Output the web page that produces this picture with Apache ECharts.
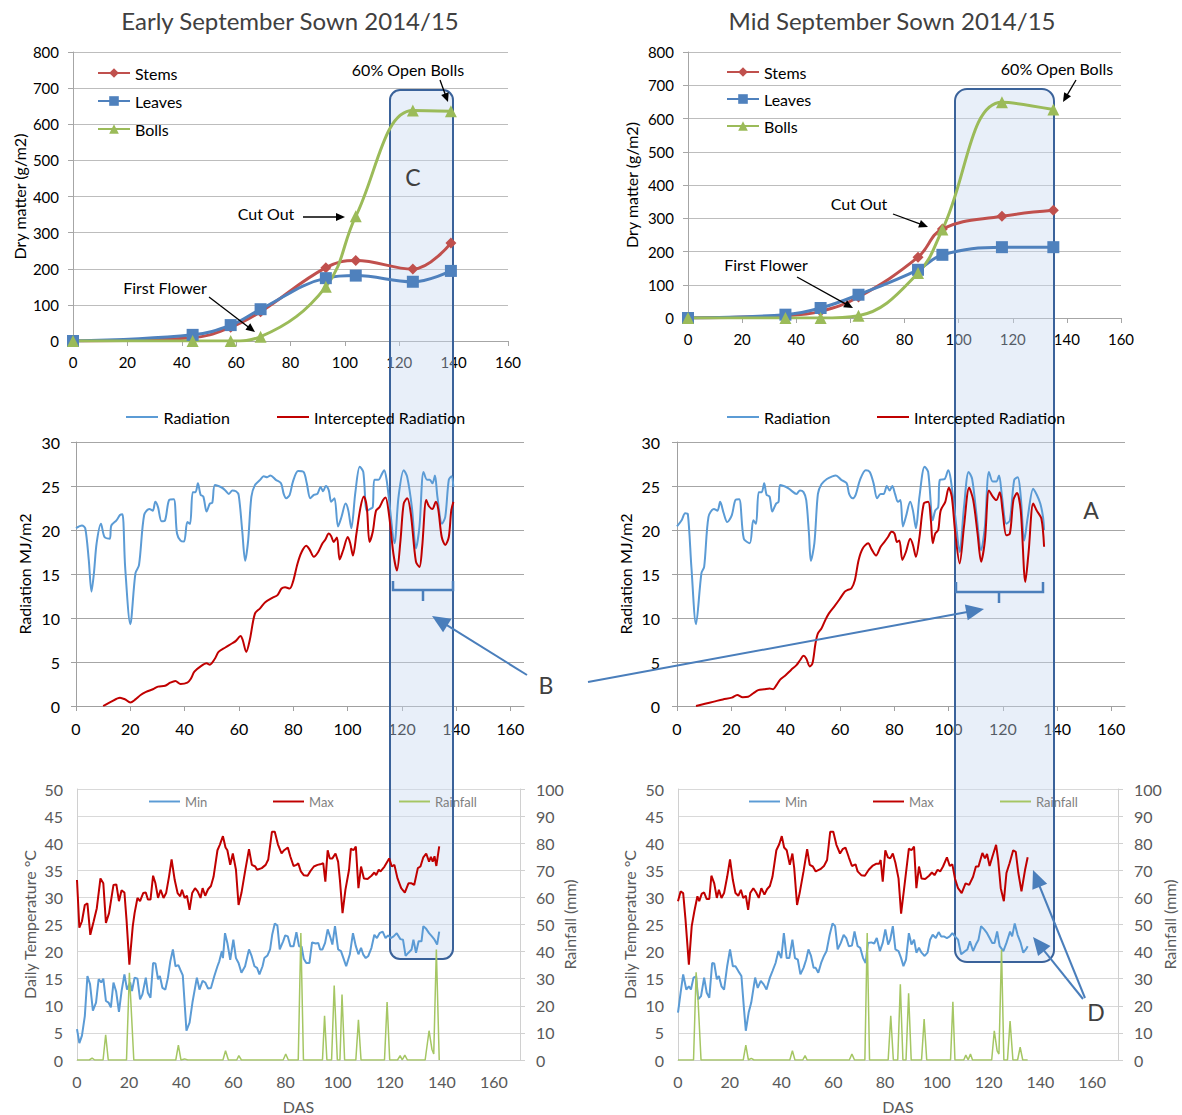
<!DOCTYPE html>
<html><head><meta charset="utf-8">
<script src="https://cdn.jsdelivr.net/npm/echarts@6/dist/echarts.min.js"></script>
<style>html,body{margin:0;padding:0;background:#fff}#c{width:1182px;height:1115px}</style>
</head><body><div id="c"></div>
<script>
// ---------- DATA ----------
const dmDasEarly   = [0,44,58,69,93,104,125,139];
const dmStemsEarly = [0,9,38,81,203,223,199,271];
const dmLeavesEarly= [0,17,44,88,174,181,164,194];
const dmBollsEarly = [0,0,0,12,150,345,638,636];
const dmDasMid     = [0,36,49,63,85,94,116,135];
const dmStemsMid   = [0,7,20,63,183,268,306,324];
const dmLeavesMid  = [0,10,30,70,145,190,213,213];
const dmBollsMid   = [0,0,0,7,135,266,649,627];

const radEarly = [[0,20.2],[2.2,20.5],[3.4,20.2],[4.7,16.6],[5.7,13.0],[6.6,15.1],[7.6,18.5],[9.2,20.7],[10.5,19.2],[12.4,19.0],[13,20.5],[14.9,21.1],[16.2,21.7],[17.1,21.8],[18.1,15.8],[20,9.3],[21.9,15.1],[23.2,16.0],[25.1,21.7],[27,22.4],[28.3,22.2],[29.2,23.2],[30.2,22.6],[31.5,21.0],[32.8,21.1],[34.3,23.4],[36,23.5],[37.2,19.6],[38.5,18.8],[39.8,18.7],[41,20.9],[42,20.7],[43,24.3],[44,24.3],[44.9,25.3],[45.9,24.0],[46.9,23.8],[48.1,22.1],[49.3,23.0],[50.2,23.1],[51.2,25.1],[53.8,24.8],[55,24.5],[56.3,24.1],[57.6,24.5],[58.9,24.4],[59.9,24.0],[61.2,20.0],[62.3,16.5],[63.4,18.8],[64.6,23.8],[65.9,25.1],[67.8,25.7],[69.1,26.1],[70.4,26.0],[71.6,26.2],[73.6,25.7],[75.5,25.3],[76.5,24.1],[77.4,23.6],[78.7,24.0],[79.9,25.5],[81.8,26.7],[83.8,26.6],[85,25.3],[86.3,23.6],[87.6,24.0],[88.9,24.1],[90.1,24.9],[91,24.4],[92,25.0],[93.1,24.5],[94,23.2],[95.2,23.6],[96.5,20.4],[97.8,21.5],[99.3,23.0],[100.3,22.2],[101.4,20.2],[102.9,24.3],[104.5,27.2],[105.8,26.6],[107.1,22.2],[108.4,22.4],[109.3,22.6],[109.9,25.7],[111.4,25.7],[112.4,26.2],[113.5,26.8],[114.4,25.7],[115.3,23.4],[117.3,18.5],[118.8,23.8],[120.7,26.8],[122,26.0],[123.7,22.6],[125.2,17.9],[126.5,20.4],[128,26.6],[129.3,25.7],[130.3,25.7],[131.3,25.3],[132.2,26.2],[133.1,23.8],[134.8,20.7],[136,21.5],[137.3,25.7],[138.3,26.1],[139,24.9]];
const interceptedEarly = [[10,0],[13,0.5],[16.2,0.95],[18.1,0.75],[20,0.4],[21.9,0.75],[23.8,1.25],[25.8,1.6],[28.3,1.9],[30.2,2.2],[32.8,2.3],[34.7,2.65],[36.6,2.85],[38.5,2.5],[41,2.65],[42.3,3.1],[43.6,3.9],[45.9,4.5],[48.1,4.85],[49.3,4.7],[51.2,5.4],[52.5,6.15],[55,6.65],[57.4,7.1],[58.9,7.4],[60.6,7.95],[61.4,7.5],[62.7,6.15],[64,7.5],[65.9,10.5],[67.8,11.1],[69.7,11.8],[72.3,12.3],[74.2,12.6],[75.7,13.35],[77,13.5],[78.7,13.35],[79.9,14.1],[81.6,16.2],[83.1,17.5],[84.8,18.2],[86,17.8],[87.6,16.95],[89.2,17.5],[90.8,18.5],[91.8,18.9],[93.1,19.6],[94,19.3],[94.9,18.65],[96.1,19.15],[97.1,16.65],[98.4,17.7],[100.1,19.2],[101,18.5],[102,17.1],[103.3,19.6],[104.8,22.6],[106,23.8],[107.1,22.6],[108.1,18.65],[109.3,19.8],[110.5,22.2],[111.8,22.6],[113.1,23.4],[114,23.7],[115.3,21.7],[116.9,17.3],[118.2,15.4],[119.5,18.8],[120.7,23.0],[122,23.6],[123.3,21.9],[125.2,16.4],[126.5,15.8],[127.5,18.1],[129,23.4],[130,22.7],[131.3,22.4],[132.5,23.2],[133.4,22.4],[134.7,19.2],[136,18.3],[137.3,19.2],[138.2,22.2],[139,23.2]];
const radMid = [[0,20.4],[1.7,21.1],[3,21.9],[4,21.8],[5.3,15.8],[7,9.3],[9,15.1],[10,15.8],[11.6,21.5],[13.6,22.4],[14.9,22.2],[15.9,23.2],[17.2,21.9],[18.5,20.9],[20.2,21.7],[21.5,23.4],[22.9,23.5],[24.6,19.0],[26.8,18.5],[28.1,21.1],[29.1,20.7],[30.1,24.3],[31.2,24.3],[32.1,25.3],[33,24.0],[34.1,23.8],[35.1,22.1],[36.5,23.0],[37.4,23.2],[38,25.1],[40.7,24.8],[42,24.5],[44,24.1],[45.3,24.5],[46.6,24.3],[47.6,23.4],[48.6,19.6],[49.3,16.5],[50.6,18.5],[51.9,24.1],[53.2,25.2],[55.2,25.8],[57.2,26.1],[58.5,26.2],[60.5,25.7],[62.5,25.3],[63.4,24.1],[64.7,23.6],[65.8,24.0],[67.4,25.7],[69.5,26.8],[71,26.6],[72.4,25.3],[73.7,23.6],[75,24.1],[76.1,24.1],[77.3,25.0],[78.3,24.5],[79.3,25.0],[80.3,24.1],[81.4,23.2],[82.3,23.4],[83.2,20.4],[84.3,21.5],[85.9,23.2],[86.9,22.2],[88,20.2],[89.3,23.8],[91.2,27.2],[92.5,26.6],[94.2,21.1],[95.1,22.2],[96.2,22.6],[96.8,25.7],[98.6,25.8],[99.9,26.8],[100.8,25.8],[102.5,21.5],[104.1,17.5],[105.7,22.6],[107.4,26.6],[108.7,25.8],[110.4,21.5],[112,17.7],[113.4,20.4],[114.9,26.6],[116.3,25.5],[117.6,25.5],[118.6,26.2],[119.7,23.8],[121.3,20.7],[122.6,21.1],[124.2,25.7],[125.5,26.0],[126.6,23.8],[127.9,18.8],[129.2,21.5],[131.2,24.7],[132.5,24.0],[133.8,23.0],[134.8,21.5],[135.2,20.0]];
const interceptedMid = [[7,0],[10.3,0.25],[13.6,0.5],[16.9,0.75],[20.2,0.95],[22.2,1.25],[24.2,1.0],[26.2,1.05],[28.1,1.45],[29.9,1.8],[32.1,1.9],[34.1,2.0],[35.4,1.9],[36.7,2.4],[38,3.0],[40,3.5],[42,4.1],[44,4.65],[45.3,5.2],[46.6,5.7],[47.6,5.4],[48.9,4.5],[49.9,4.85],[51,7.1],[51.9,8.25],[53.2,8.8],[54.6,9.75],[55.9,10.5],[57.9,11.3],[59.8,12.1],[61.8,13.0],[62.9,13.2],[64.2,13.35],[65.5,14.3],[66.9,16.6],[68.4,17.9],[70.4,18.5],[71.7,17.8],[73.3,17.1],[75,18.1],[76.4,18.65],[77.7,19.2],[79,19.8],[80.1,19.6],[81,18.65],[81.9,18.8],[83,16.6],[84.3,17.5],[85.9,19.0],[86.9,18.3],[88,16.95],[89.3,19.2],[90.9,23.0],[92.5,23.2],[93.5,21.1],[94.2,18.5],[95.1,19.6],[96.2,20.0],[97.1,22.2],[98.8,23.2],[100.1,24.8],[101.2,23.8],[102.5,19.6],[104.1,16.2],[105.7,20.4],[107.6,24.8],[109.1,23.4],[110.7,19.6],[112,16.4],[113.4,18.8],[114.9,24.5],[116.3,23.8],[117.6,23.4],[118.9,24.3],[119.9,22.2],[121.3,19.4],[122.6,19.6],[123.9,23.4],[125.2,24.2],[126.6,22.2],[128.3,14.1],[129.5,17.5],[131.2,23.0],[132.5,22.2],[134.2,21.3],[135.2,18.1]];

const maxEarly = [[0,33.2],[0.9,24.4],[1.9,25.6],[3,28.6],[4,28.9],[5.1,23.1],[6.4,25.6],[7.6,28.0],[9,33.5],[10.1,32.6],[11.1,25.3],[12.3,27.1],[14,32.3],[15.1,32.4],[16.1,29.3],[17.1,31.3],[18.2,30.9],[19,25.9],[20.1,17.6],[21.4,24.7],[22.1,27.1],[23.2,29.9],[24.2,29.3],[25.4,30.8],[26.4,30.9],[27.2,29.6],[28.2,29.6],[29.2,34.0],[30.1,32.6],[31.1,29.9],[32.1,31.4],[33.2,29.9],[34.2,30.8],[35.3,33.8],[36.3,37.0],[37.5,33.2],[38.6,30.8],[39.6,30.2],[40.3,31.4],[41.3,29.9],[42.2,30.3],[43.2,27.7],[44.2,30.8],[45.3,31.7],[46.3,31.1],[47.4,29.9],[48.2,31.7],[49.2,30.3],[50.3,31.5],[51.4,32.1],[52.4,33.8],[53.9,38.7],[54.8,39.7],[56,41.3],[57,39.2],[57.7,38.7],[58.8,36.0],[59.8,38.1],[61,35.1],[62,28.6],[63.1,30.8],[64.5,34.8],[66,38.9],[67.1,36.0],[68.4,35.7],[69.1,35.1],[70.9,35.4],[72.4,36.0],[73.4,37.0],[74.8,42.1],[75.9,42.1],[77.1,39.8],[78.5,38.1],[79.5,38.7],[80.9,39.2],[81.9,37.5],[83.1,35.8],[84.2,36.0],[84.9,36.3],[85.9,34.8],[87,34.1],[88.5,34.0],[89.5,34.8],[90.9,35.7],[92.3,36.0],[93.3,36.1],[94.5,36.3],[95.3,32.9],[96.2,38.7],[97,37.2],[98,37.2],[99.2,38.1],[100.2,36.6],[100.9,33.2],[101.9,27.1],[103,31.4],[104.4,35.1],[105.1,39.0],[106.1,38.7],[107,39.4],[108,31.7],[109,35.7],[110.1,33.5],[111.5,33.4],[113,34.0],[114.1,34.6],[114.8,34.1],[115.8,35.1],[116.5,34.8],[118,35.7],[119.8,37.2],[120.8,35.7],[121.8,36.0],[123,33.5],[124.4,31.7],[125.8,30.9],[127.2,32.6],[128.4,32.6],[129.4,32.3],[130.8,35.4],[131.8,35.7],[132.9,37.4],[134,38.1],[135.1,36.6],[135.8,37.5],[136.5,36.6],[137.2,37.6],[137.9,35.8],[139,39.4]];
const minEarly = [[0,5.7],[0.9,3.1],[1.9,4.5],[3,8.1],[4,15.5],[5,14.0],[6.1,9.1],[7.3,10.6],[8.3,14.9],[9.3,14.3],[10.1,15.0],[11.1,10.9],[12.1,10.6],[13,9.7],[14,14.3],[15,12.7],[16.1,8.9],[17.1,12.7],[18.2,15.8],[19.2,13.0],[20.4,14.3],[21.1,12.7],[22.1,15.2],[23.2,15.0],[24.2,11.2],[25.1,12.1],[26.4,15.2],[27.2,12.4],[28.2,11.5],[29.2,17.9],[30.1,17.8],[31.1,14.9],[31.8,15.5],[32.8,13.3],[33.9,13.0],[34.9,15.2],[35.8,18.2],[36.8,20.4],[37.8,17.3],[38.9,17.5],[39.6,16.7],[40.6,15.6],[42,5.4],[43.2,6.9],[44.3,10.6],[46,15.2],[47,13.0],[48.2,14.6],[49.2,14.3],[50.3,13.2],[51.4,13.3],[52.7,15.5],[53.9,17.3],[54.6,18.2],[55.6,20.1],[56,18.8],[56.8,23.4],[57.7,21.6],[58.8,18.5],[60,22.2],[61,18.8],[62,17.9],[63.1,16.1],[64.5,17.3],[66,20.4],[67,19.2],[68.1,17.3],[69.1,17.0],[70,15.8],[71.2,17.3],[71.9,18.8],[73.1,19.3],[74.1,20.4],[74.9,23.1],[75.9,25.2],[76.9,24.8],[77.8,20.4],[79.1,21.9],[79.9,23.0],[80.9,22.8],[81.9,21.0],[83.1,21.0],[84.2,23.6],[85.2,21.0],[86.2,20.9],[87,18.7],[88,17.9],[89.2,17.9],[90.2,21.7],[91.6,21.5],[92.6,21.6],[93.3,20.4],[94.2,20.4],[95.2,21.6],[96.2,24.1],[97.3,22.5],[98,21.3],[99,24.7],[100.2,20.4],[101.3,20.1],[102.3,18.7],[103.3,17.3],[104.7,19.5],[105.9,23.4],[107,21.0],[108,19.5],[109,20.7],[109.8,19.5],[110.8,18.8],[111.8,19.2],[113,20.7],[114.1,23.1],[115.1,22.5],[116.1,23.4],[117.3,23.7],[118.4,22.5],[119.4,23.0],[120.4,22.5],[121.5,22.8],[122.7,23.4],[124.1,22.3],[125.1,22.2],[126.1,19.2],[127.2,19.8],[128.4,20.4],[129.1,22.2],[130.1,19.8],[131.1,21.9],[132.2,21.9],[132.9,24.7],[134,24.2],[135.1,23.4],[136.2,22.8],[137.2,22.2],[138.2,21.3],[139,23.7]];
const rainEarly = [[0,0],[4.7,0],[5.8,0.7],[6.8,0],[10,0],[11,9.3],[12,0],[19,0],[20.1,32.2],[21.8,0],[37.9,0],[38.9,5.5],[39.9,0],[41.3,0.4],[42.5,0],[56,0],[57,3.4],[58.1,0],[61.3,0],[62.1,1.6],[63.1,0],[79.1,0],[80.1,2.2],[81.1,0],[84.9,0],[85.9,46.9],[86.9,0],[94.2,0],[95,16.3],[95.9,0],[97.7,0],[98.7,27.5],[99.9,0],[100.9,0],[101.7,24.2],[102.7,0],[107,0],[108,14.8],[109,0],[118,0],[119,21.4],[120,0],[123,0],[124,1.6],[124.8,0],[125.8,1.8],[126.8,0],[133.6,0],[135.1,10.8],[136.2,4.0],[136.9,2.2],[137.9,40.8],[139,0]];

const maxMid = [[0,29.3],[1,31.1],[2,30.8],[2.9,25.9],[4.2,17.6],[5.3,24.7],[6.3,27.4],[7.5,30.2],[8.2,29.3],[9.2,30.7],[10.1,30.9],[11.1,29.7],[12.1,29.7],[12.9,34.0],[14,32.6],[15,29.9],[15.8,31.4],[16.8,29.9],[17.8,30.8],[19,33.8],[20.1,37.0],[21.2,33.2],[22.2,30.8],[23.3,30.3],[24.3,31.4],[25.2,29.9],[26.2,30.3],[27.1,27.7],[27.9,30.8],[29.1,31.7],[30.2,30.9],[31.2,29.9],[32.2,31.7],[33.4,30.5],[34.4,31.5],[35.5,32.1],[36.5,33.8],[38,38.7],[39.1,39.8],[40.1,41.3],[41,39.2],[42,38.7],[43.2,36.0],[44.2,38.1],[44.9,35.4],[46,28.6],[47,30.8],[48.5,34.8],[49.9,38.9],[50.9,36.0],[52.1,35.7],[53.2,34.8],[55,35.2],[56.4,35.8],[57.6,36.9],[58.8,42.1],[60,42.1],[61.2,39.7],[62.6,38.1],[63.6,38.9],[64.7,39.2],[66,37.4],[67.2,35.8],[68.6,36.1],[69.4,34.8],[70.8,34.1],[72.2,34.0],[73.7,35.1],[75.1,35.8],[76.5,36.2],[77.7,36.2],[78.3,36.9],[79.1,32.9],[80.1,38.7],[81.1,37.4],[82,37.2],[83,38.1],[84,36.4],[85.2,33.5],[86.2,27.0],[87.3,31.4],[88.3,35.4],[89.2,39.0],[90.2,38.7],[91.2,39.4],[92.1,31.7],[93.1,35.7],[94.1,33.5],[95.5,33.4],[97,34.0],[98.1,34.6],[99.1,34.1],[100.3,35.1],[101.3,34.8],[102.4,35.7],[103.9,37.4],[105,35.8],[106,36.1],[107,33.5],[108.2,31.7],[109.6,30.8],[111.1,32.6],[112.5,32.3],[114,33.8],[115.1,35.7],[116.1,35.7],[117.6,38.2],[118.6,37.2],[119.4,38.0],[120.4,35.8],[121.4,37.4],[122.9,39.7],[123.7,36.9],[124.7,31.7],[125.9,29.3],[126.9,34.5],[128.1,36.3],[129.5,38.7],[130.5,38.4],[131.5,34.5],[132.7,31.1],[134.1,35.1],[135.1,37.4]];
const minMid = [[0,8.75],[1,12.4],[2,15.8],[3.2,13.0],[4.2,13.6],[5,13.0],[6,15.2],[7,15.4],[7.8,11.2],[8.9,11.8],[10.1,15.2],[11.1,12.4],[12.1,11.5],[13.2,17.9],[14,17.8],[15,14.9],[15.8,15.5],[16.8,13.6],[17.8,13.0],[19,17.3],[20.1,20.4],[21.2,17.3],[22.2,17.3],[23.3,16.4],[24.5,15.5],[25.5,9.4],[26.2,5.4],[27.3,8.75],[28.3,10.6],[29.8,15.2],[30.8,13.3],[32,14.6],[33.1,13.95],[34.2,13.0],[35.5,15.2],[36.5,16.4],[37.7,17.9],[38.8,20.1],[39.9,18.8],[40.9,23.4],[42,18.8],[43,18.8],[44.2,22.2],[45.2,18.8],[46.3,18.5],[47.3,15.8],[48.5,17.0],[49.5,18.5],[50.4,20.4],[51.4,19.2],[52.4,17.0],[53.2,17.0],[54.2,16.1],[55.3,17.9],[56.4,19.2],[57.4,20.1],[58.6,23.1],[59.7,25.2],[60.7,24.7],[61.7,20.4],[62.9,21.6],[64,23.1],[65,22.5],[66,21.0],[67.2,21.1],[68.2,23.7],[69.4,21.0],[70.4,20.7],[71.5,18.8],[72.5,17.9],[73.4,21.6],[74.7,21.7],[75.8,21.5],[76.8,22.5],[78,20.1],[79.1,21.6],[80.1,24.1],[81.2,21.3],[82,22.2],[83,24.7],[84,20.4],[85.2,20.1],[86.2,18.8],[87.1,17.3],[88.1,18.5],[89.2,23.4],[90.2,21.3],[91.2,22.2],[92.1,19.8],[93.1,20.7],[94.1,19.8],[95.3,19.2],[96.4,19.8],[97.4,22.2],[98.4,23.1],[99.6,22.5],[100.7,23.6],[101.7,22.8],[102.7,22.8],[103.9,22.5],[105,22.8],[106,23.4],[107,22.8],[108.2,22.2],[109.4,19.5],[110.4,19.9],[111.8,20.4],[112.8,21.9],[114,20.1],[115.1,21.3],[116.1,22.2],[117.1,24.7],[118.3,24.1],[119.4,23.4],[120.4,22.5],[121.4,21.6],[122.3,21.6],[123.3,23.7],[124.3,21.0],[125.7,20.1],[126.9,21.6],[128.3,23.7],[129.1,22.8],[130.1,25.2],[131.2,23.1],[132.4,21.6],[133.4,19.8],[134.4,20.4],[135.1,21.0]];
const rainMid = [[0,0],[6,0],[7,32.4],[7.8,21.2],[8.9,0],[25.2,0],[26.2,5.5],[27.2,0],[28.3,0.6],[29.4,0],[43.2,0],[44.2,3.4],[45.2,0],[48.2,0],[49.1,1.6],[49.9,0],[66.2,0],[67.2,2.2],[68.2,0],[72.2,0],[73.1,46.9],[74,0],[81.2,0],[82.2,16.3],[83.2,0],[84.9,0],[85.9,27.9],[86.9,0],[88.1,0],[89.1,24.6],[90.1,0],[94.1,0],[95.1,15.1],[96.1,0],[105.3,0],[106.2,21.5],[107,0],[110.4,0],[111.2,1.8],[112.1,0],[113,2.2],[113.8,0],[121.2,0],[122.2,10.8],[123.3,3.4],[124,2.2],[125,40.8],[125.9,0],[127.3,0],[128.3,14.4],[129.4,0],[131.2,0],[132.2,4.7],[133.2,0],[135.1,0]];

// ---------- HELPERS ----------
const FONT = 'Lato, "Open Sans", sans-serif';
const zip = (xs, ys) => xs.map((x, i) => [x, ys[i]]);

function xAx(gi, max, o) {
  return {
    gridIndex: gi, type: 'value', min: 0, max: max, interval: 20,
    axisLine: { show: true, onZero: false, lineStyle: { color: o.line, width: 1 } },
    axisTick: { show: o.tick, length: 5, lineStyle: { color: o.line } },
    axisLabel: { fontSize: o.fs, color: o.lc, margin: o.margin, fontFamily: FONT, showMaxLabel: max === 160,
      formatter: v => (v % 20 === 0 ? String(v) : '') },
    splitLine: { show: false },
    name: o.name || '', nameLocation: 'middle', nameGap: o.nameGap || 30, nameMoveOverlap: false,
    nameTextStyle: { fontSize: 16, color: o.lc, fontFamily: FONT }
  };
}
function yAx(gi, max, interval, o) {
  return {
    gridIndex: gi, type: 'value', min: 0, max: max, interval: interval, position: o.pos || 'left',
    axisLine: { show: true, lineStyle: { color: o.line, width: 1 } },
    axisTick: { show: o.tick, length: 5, lineStyle: { color: o.line } },
    axisLabel: { fontSize: o.fs, color: o.lc, margin: o.margin, fontFamily: FONT },
    splitLine: { show: o.split, lineStyle: { color: o.grid, width: 1 } },
    name: o.name, nameLocation: 'middle', nameGap: o.nameGap, nameRotate: 90, nameMoveOverlap: false,
    nameTextStyle: { fontSize: o.nfs || 16, color: o.nc || o.lc, fontFamily: FONT }
  };
}

const topX = { line: '#a6a6a6', tick: true, fs: 15, lc: '#000', margin: 13 };
const midX = { line: '#a0a0a0', tick: true, fs: 16, lc: '#000', margin: 14 };
const botX = { line: '#d0d0d0', tick: false, fs: 16, lc: '#595959', margin: 13, name: 'DAS', nameGap: 38 };

function dmSeries(name, xi, data, color, symbol, size) {
  return { name, type: 'line', xAxisIndex: xi, yAxisIndex: xi, data, smooth: 0.4,
    symbol, symbolSize: size, lineStyle: { color, width: 3 }, itemStyle: { color }, z: 3 };
}
function plainLine(name, xi, yi, data, color, width, smooth) {
  return { name, type: 'line', xAxisIndex: xi, yAxisIndex: yi, data, smooth: smooth,
    symbol: 'none', showSymbol: false, lineStyle: { color, width }, itemStyle: { color }, z: 3 };
}

const C_STEM = '#c0504d', C_LEAF = '#4f81bd', C_BOLL = '#9bbb59';
const C_RAD = '#5b9bd5', C_INT = '#c00000', C_RAIN = '#a5c663';
const C_ANN = '#4a7ebb', C_BOX = '#3a629a';

function arrow(x1, y1, x2, y2, color, w, hl, hw) {
  const dx = x2 - x1, dy = y2 - y1, L = Math.hypot(dx, dy), ux = dx / L, uy = dy / L;
  const bx = x2 - ux * hl, by = y2 - uy * hl, px = -uy, py = ux;
  return [
    { type: 'line', z: 100, shape: { x1, y1, x2: bx + ux * 1, y2: by + uy * 1 }, style: { stroke: color, lineWidth: w } },
    { type: 'polygon', z: 100, shape: { points: [[x2, y2], [bx + px * hw, by + py * hw], [bx - px * hw, by - py * hw]] }, style: { fill: color } }
  ];
}
function label(text, x, y, size, color) {
  return { type: 'text', z: 100, x, y, style: { text, font: size + 'px ' + FONT, fill: color,
    align: 'center', verticalAlign: 'middle', textAlign: 'center', textVerticalAlign: 'middle' } };
}
function legend(names, left, top, o) {
  const l = { data: names, left, top, padding: 0, orient: o.orient || 'horizontal', itemGap: o.gap || 10,
    itemWidth: o.w || 32, itemHeight: o.h || 12, selectedMode: false,
    textStyle: { fontSize: o.fs, color: o.c, fontFamily: FONT, padding: [0, 0, 0, 0] } };
  if (o.icon) l.icon = o.icon;
  return l;
}
const lineIcon = 'path://M0,0 L32,0 L32,2 L0,2 Z';

const graphics = [
  { type: 'rect', z: 1, shape: { x: 390, y: 90, width: 63, height: 869, r: 10 },
    style: { fill: 'rgba(200,216,240,0.42)', stroke: C_BOX, lineWidth: 2 } },
  { type: 'rect', z: 1, shape: { x: 955, y: 89, width: 99, height: 873, r: 12 },
    style: { fill: 'rgba(200,216,240,0.42)', stroke: C_BOX, lineWidth: 2 } },
  label('Early September Sown 2014/15', 290, 20, 24, '#404040'),
  label('Mid September Sown 2014/15', 892, 20, 24, '#404040'),
  label('Cut Out', 266, 213, 16, '#000'),
  label('First Flower', 165, 287, 16, '#000'),
  label('60% Open Bolls', 408, 69, 16, '#000'),
  label('Cut Out', 859, 203, 16, '#000'),
  label('First Flower', 766, 264, 16, '#000'),
  label('60% Open Bolls', 1057, 68, 16, '#000'),
  label('C', 413, 177, 23, '#404040'),
  label('A', 1091, 510, 23, '#404040'),
  label('B', 546, 685, 23, '#404040'),
  label('D', 1096, 1012, 23, '#404040'),
  ...arrow(303, 217, 345, 217, '#000', 1.3, 9, 4),
  ...arrow(209, 297, 255, 332, '#000', 1.3, 9, 4),
  ...arrow(440, 80, 448, 102, '#000', 1.3, 9, 4),
  ...arrow(893, 214, 928, 227, '#000', 1.3, 9, 4),
  ...arrow(797, 277, 853, 308, '#000', 1.3, 9, 4),
  ...arrow(1076, 80, 1063, 102, '#000', 1.3, 9, 4),
  ...arrow(527, 675, 432, 616, C_ANN, 2, 18, 8),
  ...arrow(588, 682, 984, 609, C_ANN, 2, 18, 8),
  ...arrow(1085, 998, 1033, 870, C_ANN, 2, 18, 8),
  ...arrow(1083, 999, 1033, 937, C_ANN, 2, 18, 8),
  { type: 'polyline', z: 100, shape: { points: [[393, 581], [393, 590], [453, 590], [453, 581]] }, style: { stroke: C_ANN, lineWidth: 2.5, fill: null } },
  { type: 'line', z: 100, shape: { x1: 423, y1: 590, x2: 423, y2: 601 }, style: { stroke: C_ANN, lineWidth: 2.5 } },
  { type: 'polyline', z: 100, shape: { points: [[956, 582], [956, 592], [1043, 592], [1043, 582]] }, style: { stroke: C_ANN, lineWidth: 2.5, fill: null } },
  { type: 'line', z: 100, shape: { x1: 999, y1: 592, x2: 999, y2: 603 }, style: { stroke: C_ANN, lineWidth: 2.5 } }
];

const option = {
  animation: false,
  backgroundColor: '#fff',
  textStyle: { fontFamily: FONT },
  grid: [
    { left: 73, top: 52, width: 435, height: 289 },
    { left: 688, top: 52, width: 433, height: 266 },
    { left: 76, top: 442, width: 448, height: 264 },
    { left: 677, top: 442, width: 448, height: 264 },
    { left: 77, top: 789, width: 443, height: 272 },
    { left: 678, top: 789, width: 440, height: 272 }
  ],
  xAxis: [
    xAx(0, 160, topX), xAx(1, 160, topX), xAx(2, 165, midX), xAx(3, 165, midX), xAx(4, 170, botX), xAx(5, 170, botX)
  ],
  yAxis: [
    yAx(0, 800, 100, { line: '#a6a6a6', tick: true, fs: 15, lc: '#000', margin: 14, split: true, grid: '#bdbdbd', name: 'Dry matter (g/m2)', nameGap: 46 }),
    yAx(1, 800, 100, { line: '#a6a6a6', tick: true, fs: 15, lc: '#000', margin: 14, split: true, grid: '#bdbdbd', name: 'Dry matter (g/m2)', nameGap: 49 }),
    yAx(2, 30, 5, { line: '#a0a0a0', tick: true, fs: 16, lc: '#000', margin: 16, split: true, grid: '#a6a6a6', name: 'Radiation MJ/m2', nameGap: 44 }),
    yAx(3, 30, 5, { line: '#a0a0a0', tick: true, fs: 16, lc: '#000', margin: 17, split: true, grid: '#a6a6a6', name: 'Radiation MJ/m2', nameGap: 44 }),
    yAx(4, 50, 5, { line: '#d0d0d0', tick: false, fs: 16, lc: '#595959', margin: 14, split: true, grid: '#d9d9d9', name: 'Daily Temperature \u00B0C', nameGap: 40 }),
    yAx(4, 100, 10, { pos: 'right', line: '#d0d0d0', tick: true, fs: 16, lc: '#595959', margin: 16, split: false, name: 'Rainfall (mm)', nameGap: 41 }),
    yAx(5, 50, 5, { line: '#d0d0d0', tick: false, fs: 16, lc: '#595959', margin: 14, split: true, grid: '#d9d9d9', name: 'Daily Temperature \u00B0C', nameGap: 41 }),
    yAx(5, 100, 10, { pos: 'right', line: '#d0d0d0', tick: true, fs: 16, lc: '#595959', margin: 16, split: false, name: 'Rainfall (mm)', nameGap: 43 })
  ],
  legend: [
    legend(['Stems', 'Leaves', 'Bolls'], 97, 65, { orient: 'vertical', gap: 12, fs: 16, c: '#000', w: 32, h: 12 }),
    legend(['Stems', 'Leaves', 'Bolls'], 726, 64, { orient: 'vertical', gap: 11, fs: 16, c: '#000', w: 32, h: 12 }),
    legend(['Radiation'], 126, 409, { fs: 16, c: '#000', w: 33, h: 2, icon: lineIcon }),
    legend(['Intercepted Radiation'], 277, 409, { fs: 16, c: '#000', w: 32, h: 2, icon: lineIcon }),
    legend(['Radiation'], 727, 409, { fs: 16, c: '#000', w: 32, h: 2, icon: lineIcon }),
    legend(['Intercepted Radiation'], 877, 409, { fs: 16, c: '#000', w: 32, h: 2, icon: lineIcon }),
    legend(['Min'], 149, 795, { fs: 13, c: '#7f7f7f', w: 31, h: 2, icon: lineIcon }),
    legend(['Max'], 273, 795, { fs: 13, c: '#7f7f7f', w: 31, h: 2, icon: lineIcon }),
    legend(['Rainfall'], 399, 795, { fs: 13, c: '#7f7f7f', w: 31, h: 2, icon: lineIcon }),
    legend(['Min'], 749, 795, { fs: 13, c: '#7f7f7f', w: 31, h: 2, icon: lineIcon }),
    legend(['Max'], 873, 795, { fs: 13, c: '#7f7f7f', w: 31, h: 2, icon: lineIcon }),
    legend(['Rainfall'], 1000, 795, { fs: 13, c: '#7f7f7f', w: 31, h: 2, icon: lineIcon })
  ],
  series: [
    dmSeries('Stems', 0, zip(dmDasEarly, dmStemsEarly), C_STEM, 'diamond', 11),
    dmSeries('Leaves', 0, zip(dmDasEarly, dmLeavesEarly), C_LEAF, 'rect', 12),
    dmSeries('Bolls', 0, zip(dmDasEarly, dmBollsEarly), C_BOLL, 'triangle', 12),
    dmSeries('Stems', 1, zip(dmDasMid, dmStemsMid), C_STEM, 'diamond', 11),
    dmSeries('Leaves', 1, zip(dmDasMid, dmLeavesMid), C_LEAF, 'rect', 12),
    dmSeries('Bolls', 1, zip(dmDasMid, dmBollsMid), C_BOLL, 'triangle', 12),
    plainLine('Radiation', 2, 2, radEarly, C_RAD, 2, 0.3),
    plainLine('Intercepted Radiation', 2, 2, interceptedEarly, C_INT, 2, 0.3),
    plainLine('Radiation', 3, 3, radMid, C_RAD, 2, 0.3),
    plainLine('Intercepted Radiation', 3, 3, interceptedMid, C_INT, 2, 0.3),
    plainLine('Min', 4, 4, minEarly, C_RAD, 2, false),
    plainLine('Max', 4, 4, maxEarly, C_INT, 2, false),
    plainLine('Rainfall', 4, 5, rainEarly, C_RAIN, 1.5, false),
    plainLine('Min', 5, 6, minMid, C_RAD, 2, false),
    plainLine('Max', 5, 6, maxMid, C_INT, 2, false),
    plainLine('Rainfall', 5, 7, rainMid, C_RAIN, 1.5, false)
  ],
  graphic: graphics
};

const chart = echarts.init(document.getElementById('c'), null, { renderer: 'svg', width: 1182, height: 1115 });
chart.setOption(option);
</script></body></html>
